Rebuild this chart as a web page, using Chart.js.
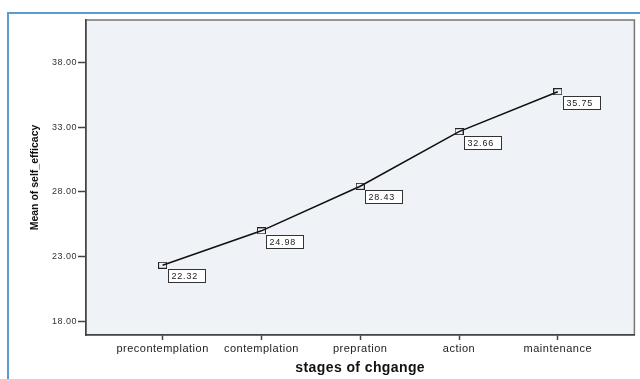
<!DOCTYPE html>
<html><head><meta charset="utf-8">
<script src="https://cdn.jsdelivr.net/npm/chart.js@4.4.1/dist/chart.umd.min.js"></script>
<style>
html,body{margin:0;padding:0;background:#fff;}
#wrap{position:relative;width:640px;height:379px;overflow:hidden;}
#frame{position:absolute;left:7px;top:12px;width:700px;height:400px;border-left:2px solid #5b9bd5;border-top:2px solid #5b9bd5;}
canvas{position:absolute;left:0;top:0;}
</style></head><body>
<div id="wrap"><div id="frame"></div><canvas id="c" width="640" height="379"></canvas></div>
<script>
const categories = ['precontemplation','contemplation','prepration','action','maintenance'];
const meanSelfEfficacy = [22.32, 24.98, 28.43, 32.66, 35.75];
const yTicks = [18, 23, 28, 33, 38];
const xTitle = 'stages of chgange';
const yTitle = 'Mean of self_efficacy';

const FONT = '"Liberation Sans", Arial, sans-serif';
const SPACING = {x:{labels:'0.5px', title:'0.4px'}, y:{labels:'0.5px', title:'0px'}};
const LS = Chart.LinearScale.prototype;
const origLabels = LS.drawLabels, origTitle = LS.drawTitle;
LS.drawLabels = function(a){ const c=this.ctx; const p=c.letterSpacing; c.letterSpacing=(SPACING[this.id]||{}).labels||'0px'; origLabels.call(this,a); c.letterSpacing=p||'0px'; };
LS.drawTitle = function(a){ const c=this.ctx; const p=c.letterSpacing; c.letterSpacing=(SPACING[this.id]||{}).title||'0px'; origTitle.call(this,a); c.letterSpacing=p||'0px'; };

function markerCanvas(){
  const m=document.createElement('canvas'); m.width=9; m.height=7;
  const g=m.getContext('2d'); g.strokeStyle='#222'; g.lineWidth=1; g.strokeRect(0.5,0.5,8,6);
  return m;
}

const plotBg = {
  id:'plotBg',
  beforeDraw(chart){
    const {ctx, chartArea:a} = chart;
    ctx.save(); ctx.fillStyle='#eff3f7'; ctx.fillRect(a.left,a.top,a.right-a.left,a.bottom-a.top);
    ctx.strokeStyle='#777'; ctx.lineWidth=1.5; ctx.strokeRect(a.left,a.top,a.right-a.left,a.bottom-a.top);
    ctx.restore();
  }
};
const valueBoxes = {
  id:'valueBoxes',
  afterDatasetsDraw(chart){
    const ctx=chart.ctx; const meta=chart.getDatasetMeta(0);
    ctx.save();
    meta.data.forEach((pt,i)=>{
      const txt=meanSelfEfficacy[i].toFixed(2);
      const bx=Math.round(pt.x)+5.5, by=Math.round(pt.y)+4.5;
      ctx.fillStyle='#fff'; ctx.fillRect(bx,by,37,13);
      ctx.strokeStyle='#333'; ctx.lineWidth=1; ctx.strokeRect(bx,by,37,13);
      ctx.font='9px '+FONT; ctx.letterSpacing='0.8px';
      ctx.fillStyle='#222'; ctx.textBaseline='middle'; ctx.textAlign='left';
      ctx.fillText(txt,bx+3,by+7);
    });
    ctx.restore();
  }
};

new Chart(document.getElementById('c'), {
  type:'line',
  data:{ datasets:[{
    data: meanSelfEfficacy.map((v,i)=>({x:i,y:v})),
    borderColor:'#111', borderWidth:1.6, tension:0,
    pointStyle: markerCanvas(), pointRadius:4
  }]},
  options:{
    responsive:false, animation:false, devicePixelRatio:1,
    layout:{padding:{left:0,top:20,right:5,bottom:0}},
    plugins:{legend:{display:false}, tooltip:{enabled:false}},
    scales:{
      x:{
        type:'linear', min:-0.775, max:4.775,
        afterBuildTicks(s){ s.ticks = categories.map((c,i)=>({value:i})); },
        afterFit(s){ s.height = 44; },
        ticks:{ callback:(v)=>categories[v] ?? '', color:'#222', font:{family:FONT,size:11}, padding:2, maxRotation:0, autoSkip:false },
        grid:{ display:true, drawOnChartArea:false, drawTicks:true, tickLength:5, tickColor:'#444', tickWidth:1.5 },
        border:{ display:true, color:'#444', width:1.5 },
        title:{ display:true, text:xTitle, color:'#111', font:{family:FONT,size:14,weight:'bold'}, padding:{top:2,bottom:2} }
      },
      y:{
        type:'linear', min:16.92, max:41.3,
        afterBuildTicks(s){ s.ticks = yTicks.map(v=>({value:v})); },
        afterFit(s){ s.width = 86; },
        ticks:{ callback:(v)=>v.toFixed(2), color:'#333', font:{family:FONT,size:9}, padding:1 },
        grid:{ display:true, drawOnChartArea:false, drawTicks:true, tickLength:8, tickColor:'#444', tickWidth:1.5 },
        border:{ display:true, color:'#444', width:1.5 },
        title:{ display:true, text:yTitle, color:'#111', font:{family:FONT,size:10.5,weight:'bold'}, padding:{top:29,bottom:0} }
      }
    }
  },
  plugins:[plotBg, valueBoxes]
});
</script>
</body></html>
